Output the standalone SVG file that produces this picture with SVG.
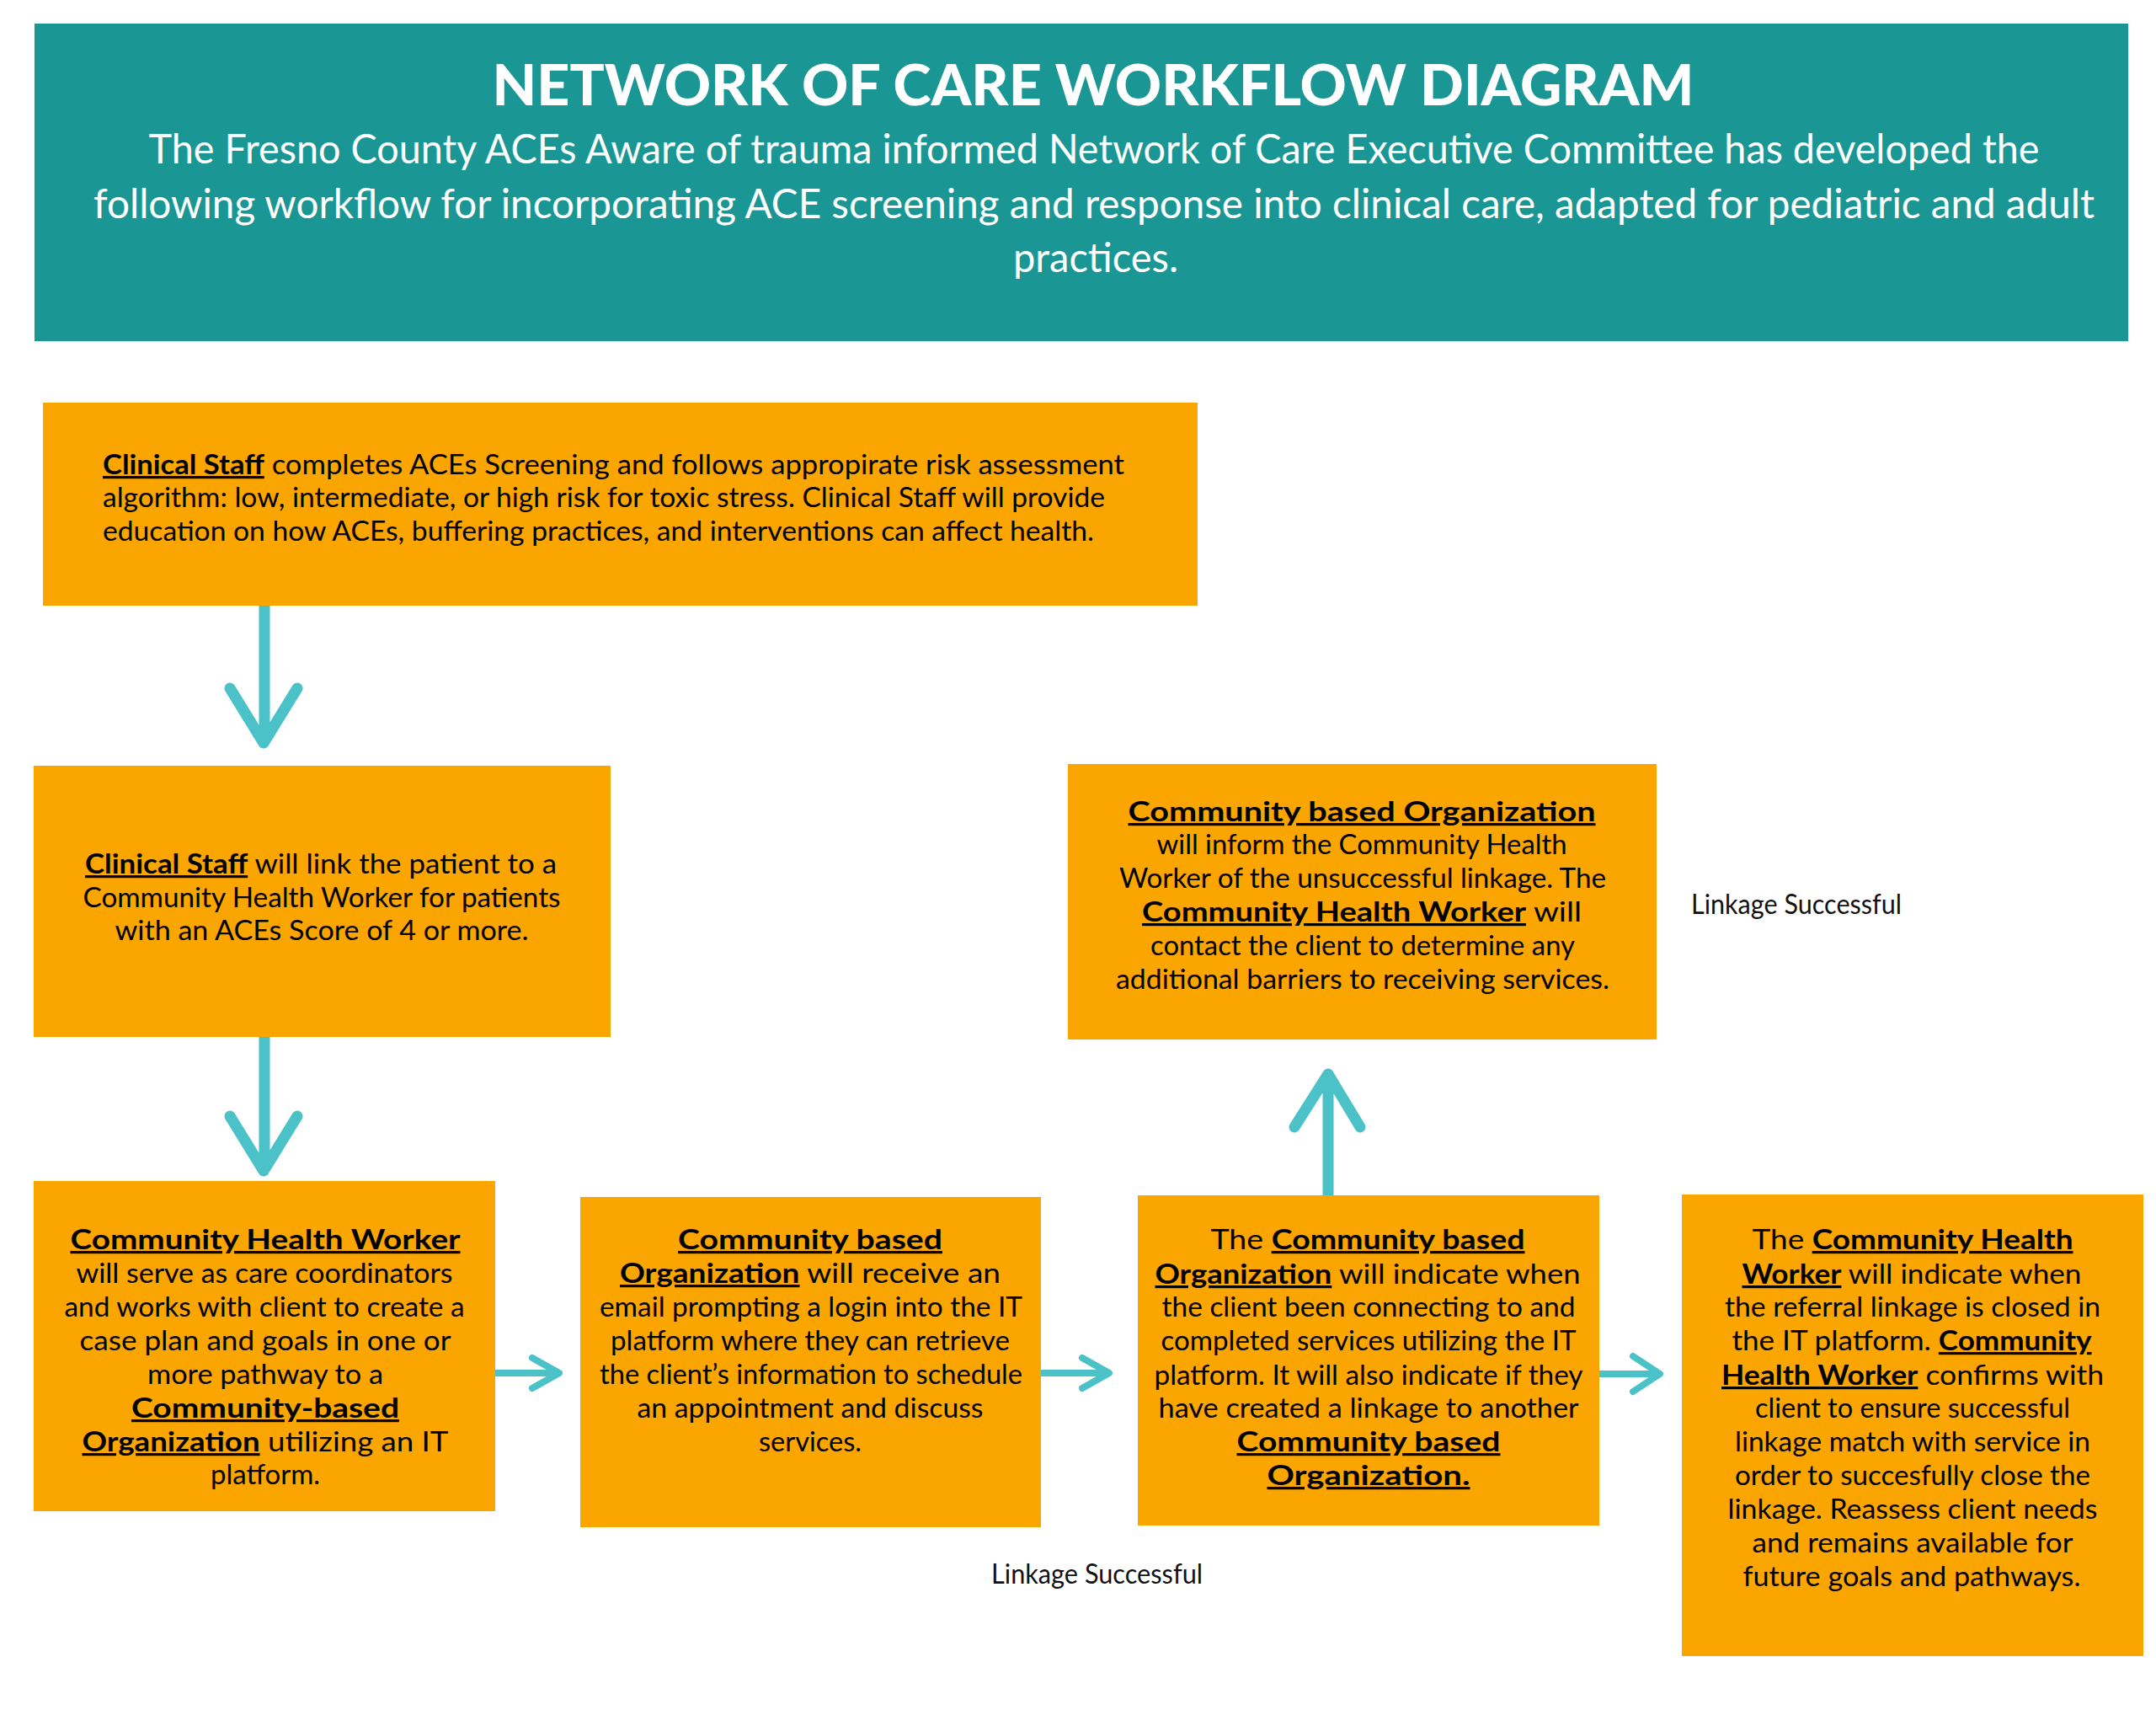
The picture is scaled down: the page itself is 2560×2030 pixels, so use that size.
<svg xmlns="http://www.w3.org/2000/svg" width="2560" height="2030" viewBox="0 0 2560 2030">
<style>
.hdr{fill:#1A9694}
.box{fill:#FAA500}
.t{font-family:Lato,"Liberation Sans",sans-serif;font-size:32px;fill:#000}
.c{text-anchor:middle}
.b{font-weight:700;text-decoration:underline}
.ht{font-family:Lato,"Liberation Sans",sans-serif;fill:#fff;text-anchor:middle}
.lbl{font-family:Lato,"Liberation Sans",sans-serif;font-size:32px;fill:#111}
.sh{stroke:#4BC2C8;stroke-width:13;fill:none;stroke-linecap:round;stroke-linejoin:round}
.sv{stroke:#4BC2C8;stroke-width:8;fill:none;stroke-linecap:round;stroke-linejoin:round}
</style>
<rect width="2560" height="2030" fill="#fff"/>
<g id="header">
<rect class="hdr" x="41" y="28" width="2486" height="377"/>
<text class="ht" x="1298" y="125" font-size="66" font-weight="900" textLength="1427" lengthAdjust="spacingAndGlyphs">NETWORK OF CARE WORKFLOW DIAGRAM</text>
<text class="ht" x="1299" y="194" font-size="48" textLength="2245" lengthAdjust="spacingAndGlyphs">The Fresno County ACEs Aware of trauma informed Network of Care Executive Committee has developed the</text>
<text class="ht" x="1299" y="259" font-size="48" textLength="2376" lengthAdjust="spacingAndGlyphs">following workflow for incorporating ACE screening and response into clinical care, adapted for pediatric and adult</text>
<text class="ht" x="1301" y="323" font-size="48" textLength="196" lengthAdjust="spacingAndGlyphs">practices.</text>
</g>
<g id="connectors">
<path class="sh" d="M314 719V878M273 817L313 882L353 817"/>
<path class="sh" d="M314 1231V1386M273 1325L313 1390L353 1325"/>
<path class="sv" d="M588 1630H662M632 1612L664 1630L632 1648"/>
<path class="sv" d="M1236 1630H1314M1285 1612L1317 1630L1285 1648"/>
<path class="sv" d="M1899 1631H1968M1939 1610L1971 1631L1939 1652"/>
<path class="sh" d="M1577 1418V1280M1537 1338L1577 1275L1615 1338"/>
</g>
<g id="node-clinical-screening">
<rect class="box" x="51" y="478" width="1371" height="241"/>
<text class="t" x="122" y="563" textLength="1213" lengthAdjust="spacingAndGlyphs"><tspan class="b">Clinical Staff</tspan> completes ACEs Screening and follows appropirate risk assessment</text>
<text class="t" x="122" y="602" textLength="1190" lengthAdjust="spacingAndGlyphs">algorithm: low, intermediate, or high risk for toxic stress. Clinical Staff will provide</text>
<text class="t" x="122" y="642" textLength="1177" lengthAdjust="spacingAndGlyphs">education on how ACEs, buffering practices, and interventions can affect health.</text>
</g>
<g id="node-clinical-link">
<rect class="box" x="40" y="909" width="685" height="322"/>
<text class="t c" x="381" y="1037" textLength="560" lengthAdjust="spacingAndGlyphs"><tspan class="b">Clinical Staff</tspan> will link the patient to a</text>
<text class="t c" x="382" y="1077" textLength="567" lengthAdjust="spacingAndGlyphs">Community Health Worker for patients</text>
<text class="t c" x="382" y="1116" textLength="491" lengthAdjust="spacingAndGlyphs">with an ACEs Score of 4 or more.</text>
</g>
<g id="node-chw">
<rect class="box" x="40" y="1402" width="548" height="392"/>
<text class="t c" x="315" y="1483" textLength="463" lengthAdjust="spacingAndGlyphs"><tspan class="b">Community Health Worker</tspan></text>
<text class="t c" x="314" y="1523" textLength="447" lengthAdjust="spacingAndGlyphs">will serve as care coordinators</text>
<text class="t c" x="314" y="1563" textLength="475" lengthAdjust="spacingAndGlyphs">and works with client to create a</text>
<text class="t c" x="315" y="1603" textLength="441" lengthAdjust="spacingAndGlyphs">case plan and goals in one or</text>
<text class="t c" x="315" y="1643" textLength="280" lengthAdjust="spacingAndGlyphs">more pathway to a</text>
<text class="t c" x="315" y="1683" textLength="318" lengthAdjust="spacingAndGlyphs"><tspan class="b">Community-based</tspan></text>
<text class="t c" x="315" y="1723" textLength="435" lengthAdjust="spacingAndGlyphs"><tspan class="b">Organization</tspan> utilizing an IT</text>
<text class="t c" x="315" y="1762" textLength="130" lengthAdjust="spacingAndGlyphs">platform.</text>
</g>
<g id="node-cbo-receive">
<rect class="box" x="689" y="1421" width="547" height="392"/>
<text class="t c" x="962" y="1483" textLength="314" lengthAdjust="spacingAndGlyphs"><tspan class="b">Community based</tspan></text>
<text class="t c" x="962" y="1523" textLength="452" lengthAdjust="spacingAndGlyphs"><tspan class="b">Organization</tspan> will receive an</text>
<text class="t c" x="963" y="1563" textLength="502" lengthAdjust="spacingAndGlyphs">email prompting a login into the IT</text>
<text class="t c" x="962" y="1603" textLength="474" lengthAdjust="spacingAndGlyphs">platform where they can retrieve</text>
<text class="t c" x="963" y="1643" textLength="502" lengthAdjust="spacingAndGlyphs">the client’s information to schedule</text>
<text class="t c" x="962" y="1683" textLength="411" lengthAdjust="spacingAndGlyphs">an appointment and discuss</text>
<text class="t c" x="962" y="1723" textLength="122" lengthAdjust="spacingAndGlyphs">services.</text>
</g>
<g id="node-cbo-indicate">
<rect class="box" x="1351" y="1419" width="548" height="392"/>
<text class="t c" x="1624" y="1483" textLength="373" lengthAdjust="spacingAndGlyphs">The <tspan class="b">Community based</tspan></text>
<text class="t c" x="1624" y="1524" textLength="505" lengthAdjust="spacingAndGlyphs"><tspan class="b">Organization</tspan> will indicate when</text>
<text class="t c" x="1625" y="1563" textLength="491" lengthAdjust="spacingAndGlyphs">the client been connecting to and</text>
<text class="t c" x="1625" y="1603" textLength="493" lengthAdjust="spacingAndGlyphs">completed services utilizing the IT</text>
<text class="t c" x="1625" y="1644" textLength="509" lengthAdjust="spacingAndGlyphs">platform. It will also indicate if they</text>
<text class="t c" x="1625" y="1683" textLength="499" lengthAdjust="spacingAndGlyphs">have created a linkage to another</text>
<text class="t c" x="1625" y="1723" textLength="313" lengthAdjust="spacingAndGlyphs"><tspan class="b">Community based</tspan></text>
<text class="t c" x="1625" y="1763" textLength="241" lengthAdjust="spacingAndGlyphs"><tspan class="b">Organization.</tspan></text>
</g>
<g id="node-chw-close">
<rect class="box" x="1997" y="1418" width="548" height="548"/>
<text class="t c" x="2271" y="1483" textLength="381" lengthAdjust="spacingAndGlyphs">The <tspan class="b">Community Health</tspan></text>
<text class="t c" x="2270" y="1524" textLength="403" lengthAdjust="spacingAndGlyphs"><tspan class="b">Worker</tspan> will indicate when</text>
<text class="t c" x="2271" y="1563" textLength="446" lengthAdjust="spacingAndGlyphs">the referral linkage is closed in</text>
<text class="t c" x="2270" y="1603" textLength="427" lengthAdjust="spacingAndGlyphs">the IT platform. <tspan class="b">Community</tspan></text>
<text class="t c" x="2271" y="1644" textLength="454" lengthAdjust="spacingAndGlyphs"><tspan class="b">Health Worker</tspan> confirms with</text>
<text class="t c" x="2271" y="1683" textLength="374" lengthAdjust="spacingAndGlyphs">client to ensure successful</text>
<text class="t c" x="2271" y="1723" textLength="422" lengthAdjust="spacingAndGlyphs">linkage match with service in</text>
<text class="t c" x="2271" y="1763" textLength="422" lengthAdjust="spacingAndGlyphs">order to succesfully close the</text>
<text class="t c" x="2271" y="1803" textLength="439" lengthAdjust="spacingAndGlyphs">linkage. Reassess client needs</text>
<text class="t c" x="2271" y="1843" textLength="381" lengthAdjust="spacingAndGlyphs">and remains available for</text>
<text class="t c" x="2270" y="1883" textLength="401" lengthAdjust="spacingAndGlyphs">future goals and pathways.</text>
</g>
<g id="node-cbo-inform">
<rect class="box" x="1268" y="907" width="699" height="327"/>
<text class="t c" x="1617" y="975" textLength="555" lengthAdjust="spacingAndGlyphs"><tspan class="b">Community based Organization</tspan></text>
<text class="t c" x="1617" y="1014" textLength="487" lengthAdjust="spacingAndGlyphs">will inform the Community Health</text>
<text class="t c" x="1618" y="1054" textLength="578" lengthAdjust="spacingAndGlyphs">Worker of the unsuccessful linkage. The</text>
<text class="t c" x="1617" y="1094" textLength="522" lengthAdjust="spacingAndGlyphs"><tspan class="b">Community Health Worker</tspan> will</text>
<text class="t c" x="1618" y="1134" textLength="504" lengthAdjust="spacingAndGlyphs">contact the client to determine any</text>
<text class="t c" x="1618" y="1174" textLength="586" lengthAdjust="spacingAndGlyphs">additional barriers to receiving services.</text>
</g>
<g id="label-linkage-top">
<text class="lbl" x="2008" y="1085" textLength="250" lengthAdjust="spacingAndGlyphs">Linkage Successful</text>
</g>
<g id="label-linkage-bottom">
<text class="lbl" x="1177" y="1880" textLength="251" lengthAdjust="spacingAndGlyphs">Linkage Successful</text>
</g>
</svg>
